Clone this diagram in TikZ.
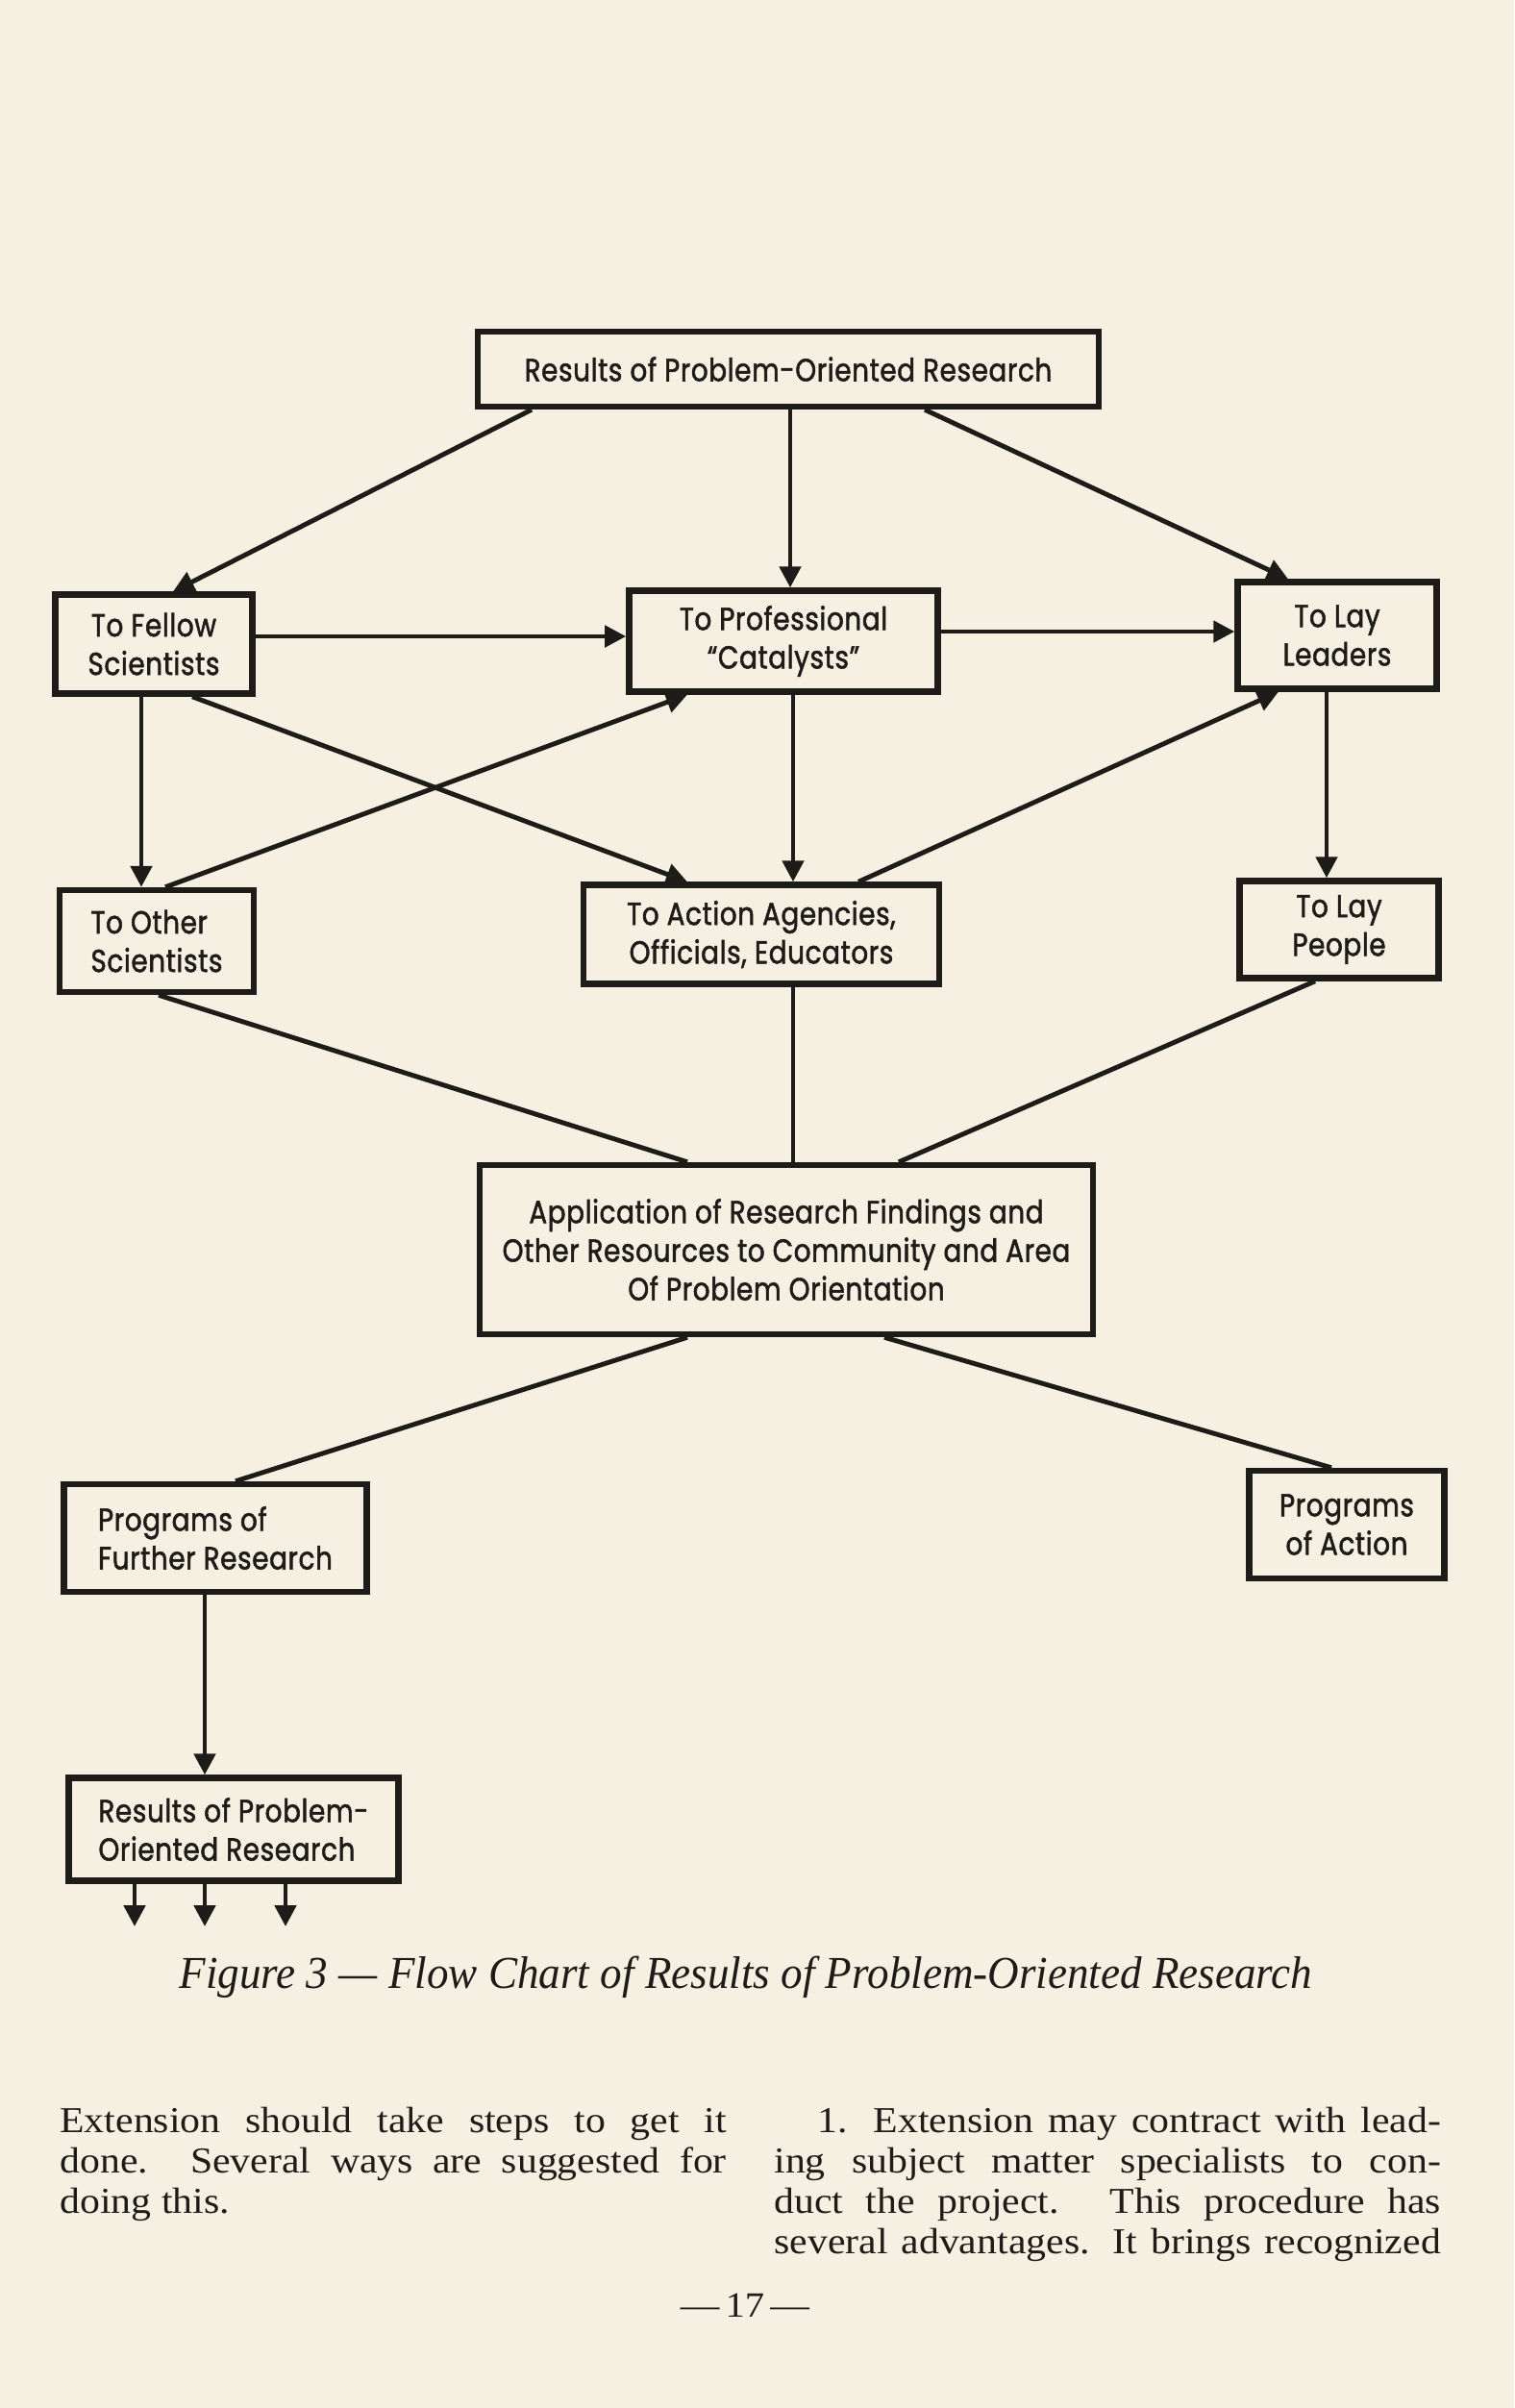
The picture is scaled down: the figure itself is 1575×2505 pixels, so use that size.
\documentclass[tikz,border=0pt]{standalone}
\usepackage{fontspec}
\setmainfont{Liberation Serif}[FakeStretch=1.1]
\newfontfamily\chartfont{Poppins}[FakeStretch=0.84,FakeBold=1.6,LetterSpace=2]
\newfontfamily\captionfont{Liberation Serif}[FakeStretch=0.95]
\usetikzlibrary{arrows.meta}
\definecolor{paper}{RGB}{245,240,225}
\definecolor{ink}{RGB}{30,28,25}
\hyphenpenalty=10000

\begin{document}
\begin{tikzpicture}[x=0.01cm,y=-0.01cm,->,>={Triangle[length=2.2mm,width=2.2mm]},line width=1.4pt,color=ink,
  box/.style 2 args={draw,-,line width=1.8pt,minimum width=#1,minimum height=#2,inner sep=0pt,align=center,font=\chartfont\fontsize{9.4}{11.4}\selectfont},
  column/.style={anchor=north west,inner sep=0pt,text width=6.93cm,align=justify,font=\fontsize{10.8}{11.95}\selectfont}]
    \fill[paper] (0,0) rectangle (1575,2505);
    \useasboundingbox (0,0) rectangle (1575,2505);

    % boxes
    \node[box={6.46cm}{0.78cm}] (top) at (820,384) {Results of Problem-Oriented Research};
    \node[box={2.05cm}{1.03cm}] (fellow) at (160,670) {To Fellow\\Scientists};
    \node[box={3.21cm}{1.05cm}] (prof) at (815,667) {To Professional\\“Catalysts”};
    \node[box={2.07cm}{1.11cm}] (leaders) at (1391,661) {To Lay\\Leaders};
    \node[box={2.02cm}{1.06cm},align=left] (other) at (163,979) {To Other\\Scientists};
    \node[box={3.70cm}{1.03cm}] (agencies) at (792,972) {To Action Agencies,\\Officials, Educators};
    \node[box={2.07cm}{1.01cm}] (people) at (1393,967) {To Lay\\People};
    \node[box={6.38cm}{1.76cm}] (apply) at (818,1300) {Application of Research Findings and\\Other Resources to Community and Area\\Of Problem Orientation};
    \node[box={3.15cm}{1.12cm},align=left] (further) at (224,1600) {Programs of\\Further Research};
    \node[box={2.03cm}{1.12cm}] (action) at (1401,1586) {Programs\\of Action};
    \node[box={3.43cm}{1.07cm},align=left] (results) at (243,1903) {Results of Problem-\\Oriented Research};

    % arrows
    \draw (553,0 |- top.south) -- (180,0 |- fellow.north);
    \draw (822,0 |- top.south) -- (822,0 |- prof.north);
    \draw (962,0 |- top.south) -- (1340,0 |- leaders.north);
    \draw (fellow.east |- 0,662) -- (prof.west |- 0,662);
    \draw (prof.east |- 0,657) -- (leaders.west |- 0,657);
    \draw (147,0 |- fellow.south) -- (147,0 |- other.north);
    \draw (200,0 |- fellow.south) -- (715,0 |- agencies.north);
    \draw (172,0 |- other.north) -- (715,0 |- prof.south);
    \draw (825,0 |- prof.south) -- (825,0 |- agencies.north);
    \draw (893,0 |- agencies.north) -- (1330,0 |- leaders.south);
    \draw (1380,0 |- leaders.south) -- (1380,0 |- people.north);
    \draw (213,0 |- further.south) -- (213,0 |- results.north);
    \foreach \x in {140,213,297} {
        \coordinate (out\x) at (\x,2004);
        \draw (\x,0 |- results.south) -- (out\x);
    }

    % plain lines
    \draw[-] (165,0 |- other.south) -- (715,0 |- apply.north);
    \draw[-] (825,0 |- agencies.south) -- (825,0 |- apply.north);
    \draw[-] (1368,0 |- people.south) -- (935,0 |- apply.north);
    \draw[-] (715,0 |- apply.south) -- (245,0 |- further.north);
    \draw[-] (920,0 |- apply.south) -- (1385,0 |- action.north);

    % caption and text
    \node[anchor=base,font=\captionfont\itshape\fontsize{13.5}{15}\selectfont] (caption) at (776,2068) {Figure 3 — Flow Chart of Results of Problem-Oriented Research};
    \node[column] (leftcol) at (60,2190) {Extension should take steps to get it\linebreak done. Several ways are suggested for\linebreak doing this.};
    \node[column] (rightcol) at (803,2190) {\parindent=0.45cm\parfillskip=0pt\indent 1. Extension may contract with lead-\linebreak ing subject matter specialists to con-\linebreak duct the project. This procedure has\linebreak several advantages. It brings recognized\par};
    \node[anchor=base,font=\fontsize{10.5}{12}\selectfont] (pageno) at (775,2410) {---\,17\,---};
\end{tikzpicture}
\end{document}
